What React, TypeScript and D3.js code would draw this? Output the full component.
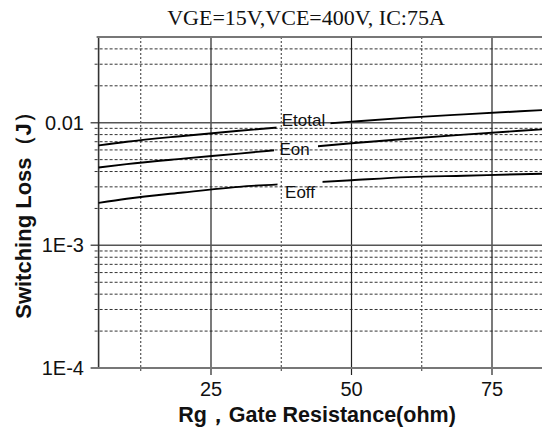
import React from "react";
import * as d3 from "d3";

// Gate resistance sample points (ohm)
const rg = [5, 10, 20, 30, 40, 50, 60, 70, 80, 90];
// Switching energies (J) at each gate resistance
const eOn = [0.00431, 0.0046, 0.0051, 0.0056, 0.0062, 0.0068, 0.0074, 0.008, 0.0086, 0.0092];
const eOff = [0.00222, 0.0024, 0.0027, 0.003, 0.0032, 0.0034, 0.0036, 0.0037, 0.0038, 0.0039];
const eTotal = [0.00653, 0.007, 0.0078, 0.0086, 0.0094, 0.0102, 0.011, 0.0117, 0.0124, 0.0131];

const seriesNames = ["Etotal", "Eon", "Eoff"];
const seriesValues = [eTotal, eOn, eOff];
// Where along Rg each in-line label sits
const labelRg = [41.46, 39.86, 40.84];

const xMajorTicks = [25, 50, 75];
const xMinorTicks = [12.5, 37.5, 62.5, 87.5];
const yMajorTicks = [1e-4, 1e-3, 1e-2];
const yTickLabels = ["1E-4", "1E-3", "0.01"];
const yMinorTicks = [
  2e-4, 3e-4, 4e-4, 5e-4, 6e-4, 7e-4, 8e-4, 9e-4,
  2e-3, 3e-3, 4e-3, 5e-3, 6e-3, 7e-3, 8e-3, 9e-3,
  2e-2, 3e-2, 4e-2,
];

const title = "VGE=15V,VCE=400V, IC:75A";
const xTitle = "Rg，Gate Resistance(ohm)";
const yTitle = "Switching Loss（J）";

const W = 542;
const H = 429;
const left = 98.6;
const top = 37;
const bottom = 368;

export default function App() {
  const x = d3.scaleLinear().domain([5, 90]).range([left, left + 85 * 5.62]);
  const y = d3.scaleLog().domain([1e-4, 0.05]).range([bottom, top]);
  const right = W + 10;

  const line = d3
    .line<number>()
    .x((_, i) => x(rg[i]))
    .y((v) => y(v))
    .curve(d3.curveMonotoneX);

  const labelFont = "Arial, 'Liberation Sans', sans-serif";
  const labelSize = 17;
  // text width, gap padding left/right, and vertical shift of each label
  const labelWidths = [44, 33, 35];
  const gapPad = [[5, 5], [4, 7], [5, 5]];
  const labelYOffset = [-5, 1, 9];

  const boxes = seriesNames.map((name, k) => {
    const cx = x(labelRg[k]);
    const vals = seriesValues[k];
    const i = d3.bisectLeft(rg, labelRg[k]);
    const t = (labelRg[k] - rg[i - 1]) / (rg[i] - rg[i - 1]);
    const v = Math.exp(Math.log(vals[i - 1]) * (1 - t) + Math.log(vals[i]) * t);
    const cy = y(v);
    return { name, cx, cy, w: labelWidths[k], pad: gapPad[k] };
  });

  return (
    <svg
      width={W}
      height={H}
      style={{ position: "absolute", left: 0, top: 0, background: "#fff" }}
    >
      <defs>
        <mask id="labelGaps" maskUnits="userSpaceOnUse" x={0} y={0} width={W} height={H}>
          <rect x={0} y={0} width={W} height={H} fill="#fff" />
          {boxes.map((b) => (
            <rect
              key={b.name}
              x={b.cx - b.w / 2 - b.pad[0]}
              y={b.cy - 8}
              width={b.w + b.pad[0] + b.pad[1]}
              height={16}
              fill="#000"
            />
          ))}
        </mask>
      </defs>

      {/* minor horizontal grid */}
      {yMinorTicks.map((v) => (
        <line
          key={"ym" + v}
          x1={left - 4}
          x2={right}
          y1={y(v)}
          y2={y(v)}
          stroke="#333"
          strokeWidth={1}
          strokeDasharray="3,2"
        />
      ))}
      {/* minor vertical grid */}
      {xMinorTicks.map((v) => (
        <line
          key={"xm" + v}
          x1={x(v)}
          x2={x(v)}
          y1={top}
          y2={bottom + 4}
          stroke="#333"
          strokeWidth={1}
          strokeDasharray="2,2"
        />
      ))}
      {/* major vertical grid */}
      {xMajorTicks.map((v) => (
        <line
          key={"xM" + v}
          x1={x(v)}
          x2={x(v)}
          y1={top}
          y2={bottom + 7}
          stroke="#222"
          strokeWidth={1.2}
        />
      ))}
      {/* major horizontal grid */}
      {yMajorTicks.slice(1).map((v) => (
        <line
          key={"yM" + v}
          x1={left - 8}
          x2={right}
          y1={y(v)}
          y2={y(v)}
          stroke="#555"
          strokeWidth={1.5}
        />
      ))}

      {/* axes frame */}
      <line x1={left} x2={left} y1={top} y2={bottom} stroke="#333" strokeWidth={1.6} />
      <line x1={left - 2} x2={right} y1={top} y2={top} stroke="#777" strokeWidth={2.2} />
      <line x1={left - 8} x2={right} y1={bottom} y2={bottom} stroke="#777" strokeWidth={2.2} />

      {/* curves */}
      <g mask="url(#labelGaps)">
        {seriesValues.map((vals, k) => (
          <path
            key={seriesNames[k]}
            d={line(vals) || ""}
            fill="none"
            stroke="#000"
            strokeWidth={1.9}
          />
        ))}
      </g>
      {boxes.map((b, k) => (
        <text
          key={"lab" + b.name}
          x={b.cx}
          y={b.cy + labelYOffset[k]}
          textAnchor="middle"
          dominantBaseline="central"
          fontFamily={labelFont}
          fontSize={labelSize}
          fill="#111"
        >
          {b.name}
        </text>
      ))}

      {/* y tick labels */}
      {yMajorTicks.map((v, i) => (
        <text
          key={"yl" + v}
          x={84}
          y={y(v)}
          textAnchor="end"
          dominantBaseline="central"
          fontFamily={labelFont}
          fontSize={20}
          fill="#111"
        >
          {yTickLabels[i]}
        </text>
      ))}
      {/* x tick labels */}
      {xMajorTicks.map((v) => (
        <text
          key={"xl" + v}
          x={x(v)}
          y={396}
          textAnchor="middle"
          fontFamily={labelFont}
          fontSize={20}
          fill="#111"
        >
          {v}
        </text>
      ))}

      <text
        x={306}
        y={25}
        textAnchor="middle"
        fontFamily="'Liberation Serif', 'Times New Roman', serif"
        fontSize={22}
        fill="#111"
      >
        {title}
      </text>
      <text
        x={317}
        y={422}
        textAnchor="middle"
        fontFamily={labelFont}
        fontWeight="bold"
        fontSize={21.5}
        fill="#111"
      >
        {xTitle}
      </text>
      <text
        transform={`translate(31,210) rotate(-90)`}
        textAnchor="middle"
        fontFamily={labelFont}
        fontWeight="bold"
        fontSize={22}
        fill="#111"
      >
        {yTitle}
      </text>
    </svg>
  );
}
